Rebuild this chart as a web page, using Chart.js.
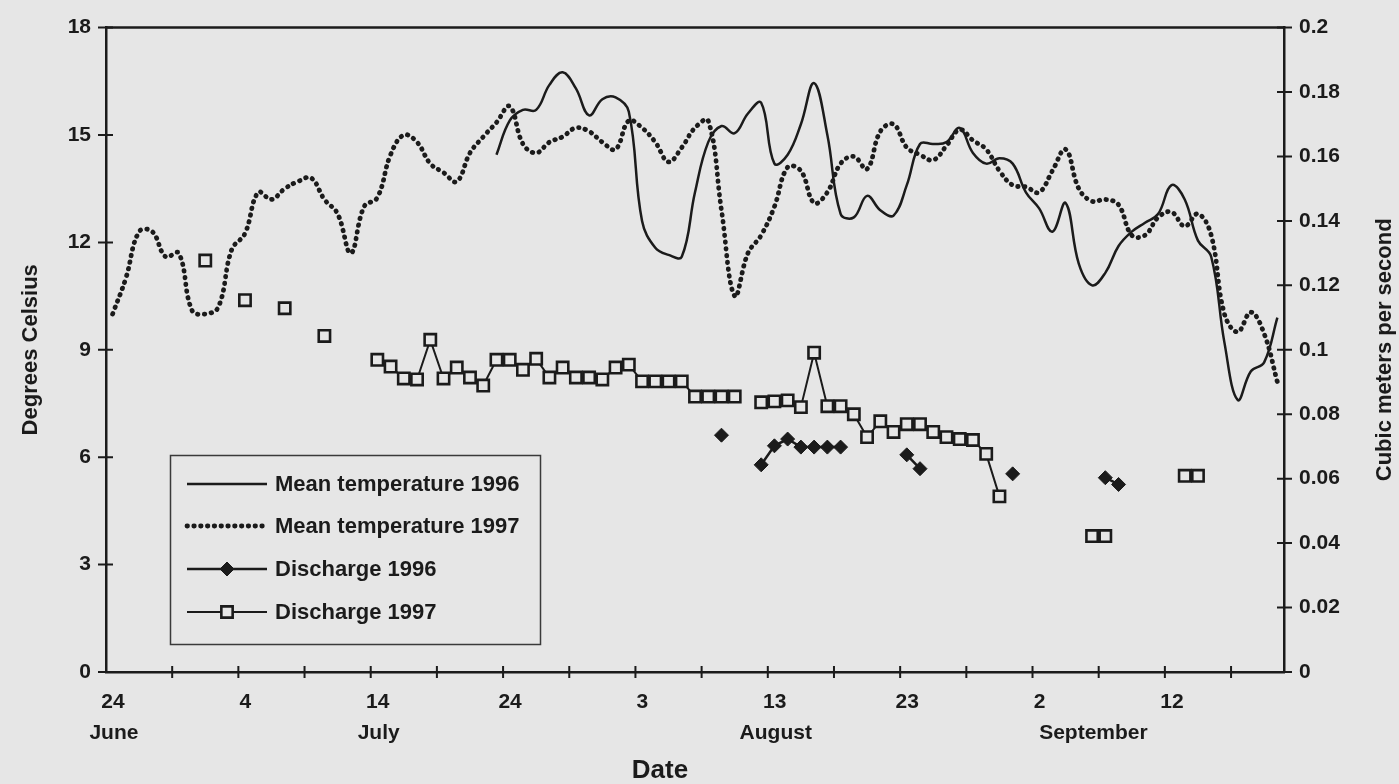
<!DOCTYPE html>
<html>
<head>
<meta charset="utf-8">
<script src="https://cdn.jsdelivr.net/npm/chart.js@4.4.0/dist/chart.umd.min.js"></script>
<style>
    html, body { margin: 0; padding: 0; background: #e6e6e6; }
    #chart { display: block; }
</style>
</head>
<body>
<canvas id="chart" width="1399" height="784"></canvas>
<script>
// date axis: a label every 10 days, counted from 24 June
let dateTicks = ['24', '4', '14', '24', '3', '13', '23', '2', '12'];
let months = ['June', 'July', 'August', 'September'];

// daily mean temperature (deg C), 1997 record starts 24 June (day 0)
let temp1997 = [
    10.0, 11.0, 12.3, 12.3, 11.6, 11.7, 10.1, 10.0, 10.2, 11.8,
    12.25, 13.4, 13.2, 13.5, 13.7, 13.8, 13.2, 12.8, 11.7, 13.0,
    13.25, 14.45, 15.0, 14.8, 14.2, 13.95, 13.7, 14.5, 14.95, 15.35,
    15.8, 14.75, 14.5, 14.8, 14.95, 15.2, 15.1, 14.8, 14.6, 15.4,
    15.2, 14.8, 14.25, 14.65, 15.2, 15.4, 12.9, 10.5, 11.7, 12.2,
    13.0, 14.1, 14.0, 13.1, 13.4, 14.2, 14.4, 14.05, 15.1, 15.3,
    14.65, 14.45, 14.3, 14.7, 15.15, 14.85, 14.6, 14.0, 13.6, 13.55,
    13.4, 14.0, 14.6, 13.5, 13.15, 13.2, 13.05, 12.2, 12.2, 12.7,
    12.85, 12.45, 12.8, 12.2, 10.0, 9.5, 10.05, 9.45, 8.1
];

// 1996 record starts 23 July (day 29)
let temp1996Start = 29;
let temp1996 = [
    14.45, 15.4, 15.7, 15.7, 16.4, 16.75, 16.3, 15.55, 16.0, 16.05,
    15.65, 12.6, 11.85, 11.65, 11.6, 13.4, 14.8, 15.25, 15.05, 15.6,
    15.9, 14.2, 14.45, 15.3, 16.45, 15.0, 12.8, 12.7, 13.3, 12.9,
    12.75, 13.6, 14.75, 14.75, 14.8, 15.2, 14.5, 14.2, 14.35, 14.2,
    13.4, 12.95, 12.3, 13.1, 11.4, 10.8, 11.15, 11.9, 12.3, 12.55,
    12.8, 13.6, 13.2, 12.05, 11.6, 9.2, 7.6, 8.4, 8.65, 9.9
];

// discharge (m3/s) on the measured days
let discharge1997Days = [7, 10, 13, 16,
    20, 21, 22, 23, 24, 25, 26, 27, 28, 29, 30, 31, 32, 33, 34, 35, 36, 37, 38, 39,
    40, 41, 42, 43, 44, 45, 46, 47, 49, 50, 51, 52, 53, 54, 55, 56, 57, 58, 59,
    60, 61, 62, 63, 64, 65, 66, 67, 74, 75, 81, 82];
let discharge1997 = [0.1277, 0.1154, 0.1129, 0.1043,
    0.0969, 0.0948, 0.0911, 0.0908, 0.1031, 0.0911, 0.0945, 0.0914, 0.0889, 0.0969, 0.0969, 0.0938, 0.0972, 0.0914, 0.0945, 0.0914, 0.0914, 0.0908, 0.0945, 0.0954,
    0.0902, 0.0902, 0.0902, 0.0902, 0.0855, 0.0855, 0.0855, 0.0855, 0.0837, 0.084, 0.0843, 0.0822, 0.0991, 0.0825, 0.0825, 0.080, 0.0729, 0.0778, 0.0745,
    0.0769, 0.0769, 0.0745, 0.0729, 0.0723, 0.072, 0.0677, 0.0545, 0.0422, 0.0422, 0.0609, 0.0609];

let discharge1996Days = [46, 49, 50, 51, 52, 53, 54, 55, 60, 61, 68, 75, 76];
let discharge1996 = [0.0735, 0.0643, 0.0702, 0.0723, 0.0698, 0.0698, 0.0698, 0.0698, 0.0674, 0.0631, 0.0615, 0.0603, 0.0582];

let ink = '#1b1b1b';
let paper = '#e6e6e6';
let family = '"Liberation Sans", Arial, sans-serif';

// points sit in the middle of their day, like a category axis
function daily(values, start) {
    return values.map((v, i) => ({ x: start + i + 0.5, y: v }));
}

// fill the missing days with null so the line breaks there
function sparse(days, values) {
    let out = [];
    for (let d = days[0]; d <= days[days.length - 1]; d++) {
        let k = days.indexOf(d);
        out.push({ x: d + 0.5, y: k >= 0 ? values[k] : null });
    }
    return out;
}

let decor = {
    id: 'decor',
    afterDraw(chart) {
        let { ctx, chartArea: a, scales } = chart;
        ctx.save();
        ctx.strokeStyle = ink;
        ctx.fillStyle = ink;

        // top edge of the frame
        ctx.lineWidth = 2.5;
        ctx.beginPath();
        ctx.moveTo(a.left, a.top);
        ctx.lineTo(a.right, a.top);
        ctx.stroke();

        // tick marks crossing the axes
        ctx.lineWidth = 2;
        ctx.beginPath();
        for (let d = 5; d <= 85; d += 5) {
            let px = scales.x.getPixelForValue(d);
            ctx.moveTo(px, a.bottom - 6);
            ctx.lineTo(px, a.bottom + 6);
        }
        for (let v = 0; v <= 18; v += 3) {
            let py = scales.y.getPixelForValue(v);
            ctx.moveTo(a.left - 8, py);
            ctx.lineTo(a.left + 7, py);
        }
        for (let i = 0; i <= 10; i++) {
            let py = scales.y1.getPixelForValue(i * 0.02);
            ctx.moveTo(a.right - 7, py);
            ctx.lineTo(a.right + 8, py);
        }
        ctx.stroke();

        // month names under the day numbers
        let monthAt = [0.6, 20.6, 50.6, 74.6];
        ctx.font = 'bold 21px ' + family;
        ctx.textAlign = 'center';
        ctx.textBaseline = 'middle';
        months.forEach((m, i) => {
            ctx.fillText(m, scales.x.getPixelForValue(monthAt[i]), 733);
        });

        ctx.font = 'bold 26px ' + family;
        ctx.fillText('Date', 660, 771);

        // right axis title, reading upwards
        ctx.save();
        ctx.translate(1385, (a.top + a.bottom) / 2);
        ctx.rotate(-Math.PI / 2);
        ctx.font = 'bold 22px ' + family;
        ctx.fillText('Cubic meters per second', 0, 0);
        ctx.restore();

        // legend box
        ctx.lineWidth = 1.5;
        ctx.strokeStyle = '#3a3a3a';
        ctx.strokeRect(170.5, 455.5, 370, 189);
        ctx.strokeStyle = ink;

        let rows = [484, 526, 569, 612];
        chart.data.datasets.forEach((ds, i) => {
            let yy = rows[i];
            ctx.save();
            ctx.lineWidth = ds.borderWidth;
            ctx.lineCap = ds.borderCapStyle || 'butt';
            ctx.setLineDash(ds.borderDash || []);
            ctx.beginPath();
            ctx.moveTo(187, yy);
            ctx.lineTo(267, yy);
            ctx.stroke();
            ctx.restore();
            if (ds.pointRadius > 0) {
                ctx.save();
                ctx.fillStyle = ds.pointBackgroundColor;
                ctx.lineWidth = ds.pointBorderWidth;
                Chart.helpers.drawPoint(ctx, {
                    pointStyle: ds.pointStyle, radius: ds.pointRadius,
                    borderWidth: ds.pointBorderWidth, rotation: 0
                }, 227, yy);
                ctx.restore();
            }
            ctx.font = 'bold 22px ' + family;
            ctx.textAlign = 'left';
            ctx.fillText(ds.label, 275, yy + 1);
        });
        ctx.restore();
    }
};

let ctx = document.getElementById('chart').getContext('2d');

let chart = new Chart(ctx, {
    type: 'line',
    data: {
        datasets: [{
            label: 'Mean temperature 1996',
            data: daily(temp1996, temp1996Start),
            yAxisID: 'y',
            borderColor: ink,
            borderWidth: 2.5,
            pointRadius: 0,
            tension: 0.4
        }, {
            label: 'Mean temperature 1997',
            data: daily(temp1997, 0),
            yAxisID: 'y',
            borderColor: ink,
            borderWidth: 4.8,
            borderDash: [0.5, 6.3],
            borderCapStyle: 'round',
            pointRadius: 0,
            tension: 0.4
        }, {
            label: 'Discharge 1996',
            data: sparse(discharge1996Days, discharge1996),
            yAxisID: 'y1',
            borderColor: ink,
            borderWidth: 2.5,
            pointStyle: 'rectRot',
            pointRadius: 7,
            pointBorderWidth: 1,
            pointBorderColor: ink,
            pointBackgroundColor: ink,
            spanGaps: false
        }, {
            label: 'Discharge 1997',
            data: sparse(discharge1997Days, discharge1997),
            yAxisID: 'y1',
            borderColor: ink,
            borderWidth: 2,
            pointStyle: 'rect',
            pointRadius: 8,
            pointBorderWidth: 2.6,
            pointBorderColor: ink,
            pointBackgroundColor: paper,
            spanGaps: false
        }]
    },
    options: {
        responsive: false,
        animation: false,
        events: [],
        layout: { padding: { top: 22, left: 0, right: 0, bottom: 0 } },
        plugins: { legend: { display: false }, tooltip: { enabled: false } },
        scales: {
            x: {
                type: 'linear',
                min: 0,
                max: 89,
                grid: { display: false, drawTicks: false },
                border: { display: true, color: ink, width: 2.5 },
                ticks: {
                    stepSize: 5,
                    includeBounds: false,
                    autoSkip: false,
                    maxRotation: 0,
                    labelOffset: 7,
                    padding: 18,
                    color: ink,
                    font: { family: family, size: 21, weight: 'bold' },
                    callback: v => (v % 10 === 0 ? dateTicks[v / 10] : '')
                },
                afterFit: s => { s.height = 112; }
            },
            y: {
                position: 'left',
                min: 0,
                max: 18,
                grid: { display: false, drawTicks: false },
                border: { display: true, color: ink, width: 2.5 },
                ticks: {
                    stepSize: 3,
                    padding: 15,
                    color: ink,
                    font: { family: family, size: 21, weight: 'bold' }
                },
                title: {
                    display: true,
                    text: 'Degrees Celsius',
                    color: ink,
                    font: { family: family, size: 22, weight: 'bold' },
                    padding: { top: 18, bottom: 0 }
                },
                afterFit: s => { s.width = 106; }
            },
            y1: {
                position: 'right',
                min: 0,
                max: 0.2,
                grid: { display: false, drawTicks: false },
                border: { display: true, color: ink, width: 2.5 },
                ticks: {
                    stepSize: 0.02,
                    padding: 15,
                    color: ink,
                    font: { family: family, size: 21, weight: 'bold' },
                    callback: v => String(+v.toFixed(2))
                },
                afterFit: s => { s.width = 115; }
            }
        }
    },
    plugins: [decor]
});
</script>
</body>
</html>
